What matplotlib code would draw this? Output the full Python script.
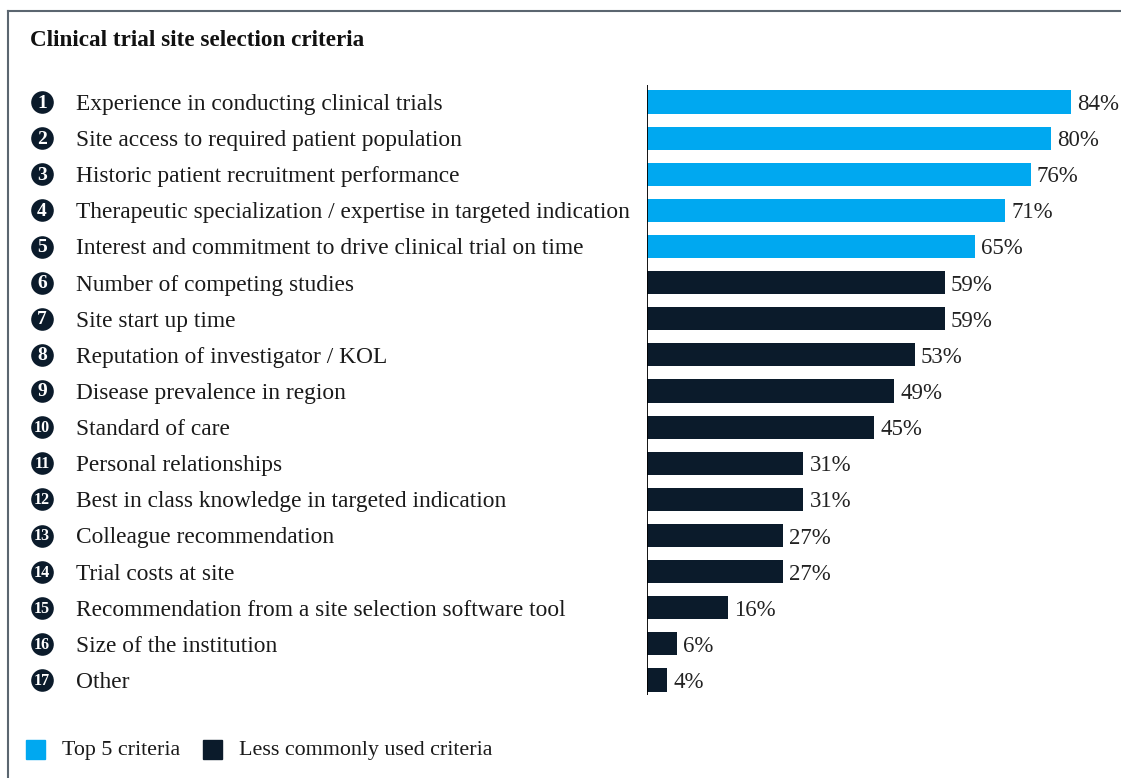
import matplotlib
matplotlib.use("Agg")
import matplotlib.pyplot as plt
from matplotlib.transforms import blended_transform_factory, offset_copy
from matplotlib.patches import Rectangle
from matplotlib.lines import Line2D

title = "Clinical trial site selection criteria"
criteria = [
    "Experience in conducting clinical trials",
    "Site access to required patient population",
    "Historic patient recruitment performance",
    "Therapeutic specialization / expertise in targeted indication",
    "Interest and commitment to drive clinical trial on time",
    "Number of competing studies",
    "Site start up time",
    "Reputation of investigator / KOL",
    "Disease prevalence in region",
    "Standard of care",
    "Personal relationships",
    "Best in class knowledge in targeted indication",
    "Colleague recommendation",
    "Trial costs at site",
    "Recommendation from a site selection software tool",
    "Size of the institution",
    "Other",
]
values = [84, 80, 76, 71, 65, 59, 59, 53, 49, 45, 31, 31, 27, 27, 16, 6, 4]
groups = ["Top 5 criteria"] * 5 + ["Less commonly used criteria"] * 12
legend_labels = ["Top 5 criteria", "Less commonly used criteria"]

BLUE = "#00a8f0"
NAVY = "#0b1b2b"
colors = {"Top 5 criteria": BLUE, "Less commonly used criteria": NAVY}
SERIF = ["Liberation Serif", "DejaVu Serif"]
FS = 16.8
FSV = 16.5

W, H = 1121, 778
fig = plt.figure(figsize=(W / 100, H / 100), dpi=100)

def fx(px):
    return px / W

def fy(py):
    return 1 - py / H

# bar axes
ax_left, ax_right = 647, 1110
ax_top, ax_bot = 85, 695
row0, step = 102, 36.125
pxper = 5.048
ax = fig.add_axes([fx(ax_left), fy(ax_bot), fx(ax_right - ax_left), (ax_bot - ax_top) / H])
ax.set_xlim(0, (ax_right - ax_left) / pxper)
ax.set_ylim((ax_bot - row0) / step, (ax_top - row0) / step)
ax.axis("off")
ax.add_line(Line2D([0, 0], [0, 1], transform=ax.transAxes, color="black", lw=1.3))

ypos = list(range(len(criteria)))
ax.barh(ypos, values, height=0.64, color=[colors[g] for g in groups])
val_tr = offset_copy(ax.transData, fig=fig, x=0, y=-2.5, units="dots")
for y, v in zip(ypos, values):
    ax.text(v + 6 / pxper, y, f"{v}%", va="center", ha="left", fontsize=FSV,
            family=SERIF, color="#222222", transform=val_tr)

tr = blended_transform_factory(fig.transFigure, ax.transData)
tr_lab = offset_copy(tr, fig=fig, x=0, y=-2.5, units="dots")
tr_num = offset_copy(tr, fig=fig, x=0, y=-1, units="dots")
for i, (y, lab) in enumerate(zip(ypos, criteria)):
    ax.text(fx(76), y, lab, transform=tr_lab, va="center", ha="left", fontsize=FS,
            family=SERIF, color="#1a1a1a", clip_on=False)
    ax.scatter([fx(42)], [y], s=265, color=NAVY, transform=tr, clip_on=False, zorder=5,
               linewidths=0)
    num = str(i + 1)
    ax.text(fx(42), y, num, transform=tr_num, ha="center", va="center",
            fontsize=14 if len(num) == 1 else 11.5, fontweight="bold",
            family=SERIF, color="white", zorder=6, clip_on=False)

fig.text(fx(30), fy(40), title, ha="left", va="center", fontsize=16.7, fontweight="bold",
         family=SERIF, color="#111111")

# legend
leg_items = [(26, 62, legend_labels[0]), (203, 239, legend_labels[1])]
for (sx, tx, lab) in leg_items:
    fig.patches.append(Rectangle((fx(sx), fy(759)), fx(19), 19 / H, transform=fig.transFigure,
                                 color=colors[lab], figure=fig))
    fig.text(fx(tx), fy(751), lab, ha="left", va="center", fontsize=15.8,
             family=SERIF, color="#1a1a1a")

# frame
fig.add_artist(Line2D([fx(8), 1], [fy(11), fy(11)], transform=fig.transFigure, color="#5b6670", lw=1.5))
fig.add_artist(Line2D([fx(8), fx(8)], [0, fy(11)], transform=fig.transFigure, color="#5b6670", lw=1.5))

fig.savefig("out.png", dpi=100)
